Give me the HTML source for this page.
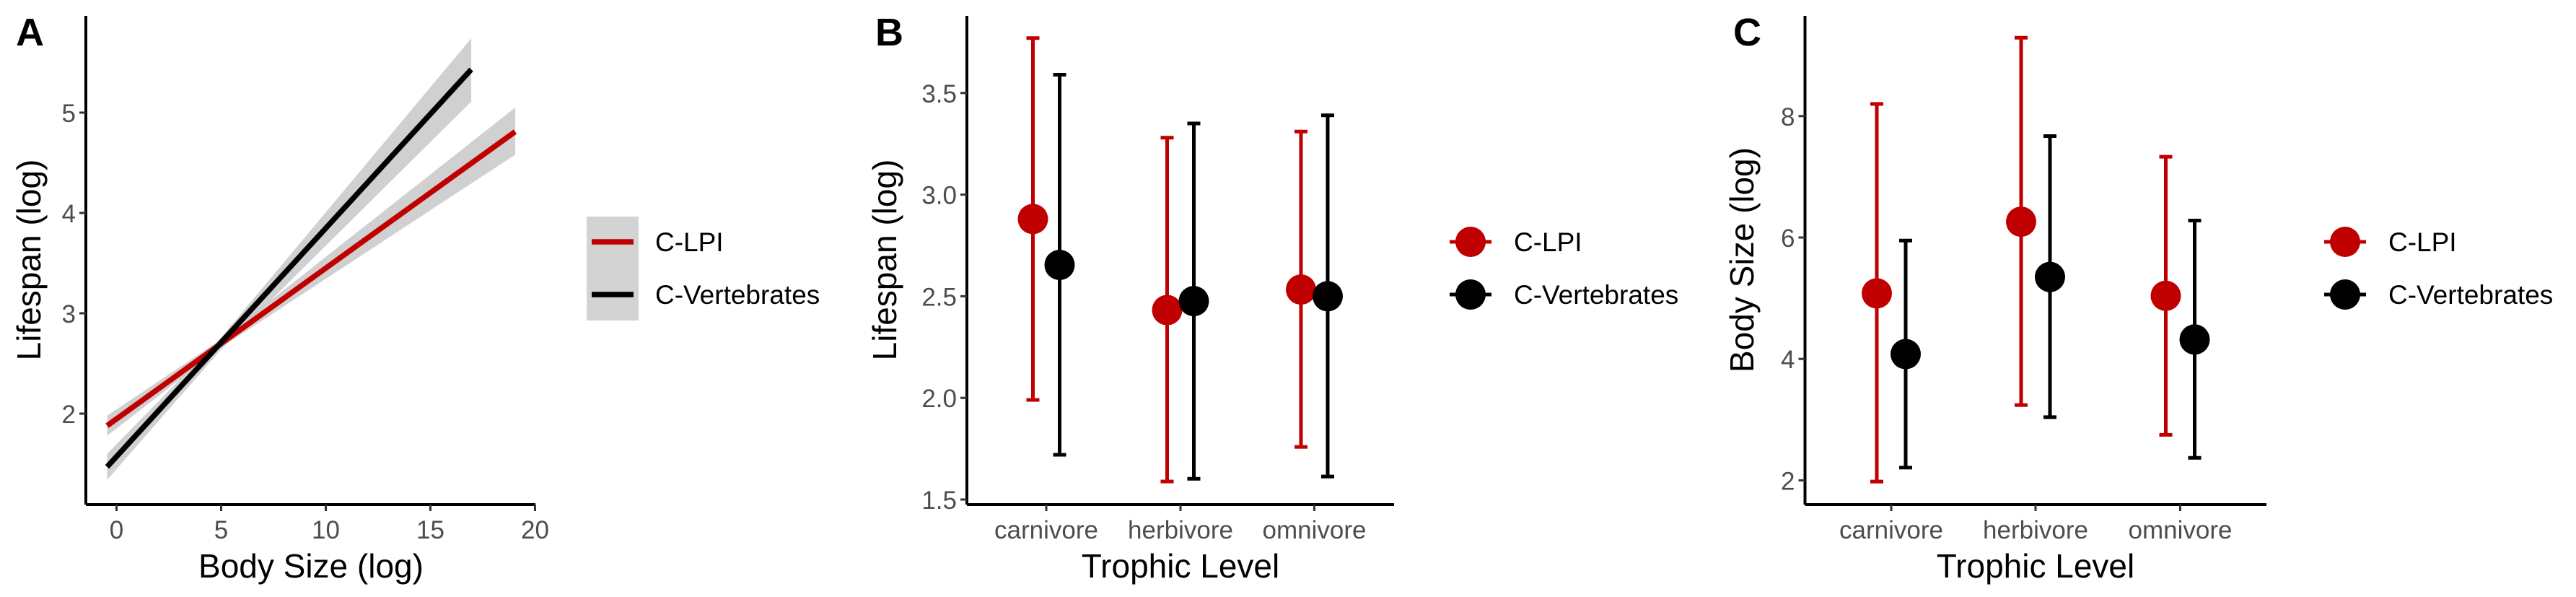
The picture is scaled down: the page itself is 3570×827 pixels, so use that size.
<!DOCTYPE html>
<html><head><meta charset="utf-8"><style>
html,body{margin:0;padding:0;background:#fff}
svg{display:block;font-family:"Liberation Sans",sans-serif}
</style></head><body>
<svg id="fig" width="3570" height="827" viewBox="0 0 3570 827" xmlns="http://www.w3.org/2000/svg"></svg>
<script>
// Panel A data
const aSeries = ["C-LPI","C-Vertebrates"];
const aX0 = [-0.45, -0.45];
const aY0 = [1.88, 1.47];
const aX1 = [19.05, 16.95];
const aY1 = [4.81, 5.43];
const bandRedX = [-0.45, 5, 19.05];
const bandRedLo = [1.78, 2.66, 4.58];
const bandRedHi = [1.98, 2.74, 5.05];
const bandBlkX = [-0.45, 5, 16.95];
const bandBlkLo = [1.34, 2.64, 5.11];
const bandBlkHi = [1.60, 2.76, 5.74];
const aXTicks = [0,5,10,15,20];
const aYTicks = [2,3,4,5];
// Panel B data
const categories = ["carnivore","herbivore","omnivore"];
const bRedMean = [2.88, 2.432, 2.533];
const bRedLo = [1.99, 1.589, 1.759];
const bRedHi = [3.77, 3.28, 3.31];
const bBlkMean = [2.654, 2.476, 2.50];
const bBlkLo = [1.72, 1.602, 1.613];
const bBlkHi = [3.59, 3.35, 3.39];
const bYTicks = ["1.5","2.0","2.5","3.0","3.5"];
// Panel C data
const cRedMean = [5.08, 6.26, 5.04];
const cRedLo = [1.98, 3.24, 2.75];
const cRedHi = [8.2, 9.29, 7.33];
const cBlkMean = [4.08, 5.35, 4.32];
const cBlkLo = [2.21, 3.04, 2.37];
const cBlkHi = [5.95, 7.67, 6.28];
const cYTicks = [2,4,6,8];

const NS="http://www.w3.org/2000/svg";
const svg=document.getElementById('fig');
const RED="#c00000", BLK="#000000", TXT="#4d4d4d";
function mk(tag,attrs,parent){const e=document.createElementNS(NS,tag);for(const k in attrs)e.setAttribute(k,attrs[k]);(parent||svg).appendChild(e);return e;}
function txt(s,attrs,parent){const e=mk('text',attrs,parent);e.textContent=s;return e;}

function axes(g,x0,x1,y0,y1){
  const a=mk('line',{x1:x0,y1:y1,x2:x0,y2:y0,stroke:'#000','stroke-width':4},g);
  
  const b=mk('line',{x1:x0,y1:y1,x2:x1,y2:y1,stroke:'#000','stroke-width':4},g);
  
}
function yTick(g,x0,y,label){
  const t=mk('line',{x1:x0-9,y1:y,x2:x0,y2:y,stroke:'#333','stroke-width':3},g);
  
  const l=txt(label,{x:x0-14,y:y+13,'font-size':35,fill:TXT,'text-anchor':'end'},g);
  
}
function xTick(g,x,y1,label){
  const t=mk('line',{x1:x,y1:y1,x2:x,y2:y1+9,stroke:'#333','stroke-width':3},g);
  
  const l=txt(label,{x:x,y:y1+47,'font-size':35,fill:TXT,'text-anchor':'middle'},g);
  
}
function titles(g,letter,lx,xt,xtx,yt,ytx){
  const p=txt(letter,{x:lx,y:63,'font-size':54,'font-weight':'bold',fill:'#000'},g);
  
  const a=txt(xt,{x:xtx,y:800,'font-size':46,fill:'#000','text-anchor':'middle'},g);
  
  const b=txt(yt,{x:0,y:0,'font-size':46,fill:'#000','text-anchor':'middle',transform:`translate(${ytx},360) rotate(-90)`},g);
  
}

// ---- Panel A ----
(function(){
  const g=mk('g',{});
  const X=v=>161.5+v*29.0, Y=v=>573-(v-2)*139;
  function band(xs,lo,hi,name){
    let pts=xs.map((x,i)=>X(x)+','+Y(hi[i]));
    pts=pts.concat(xs.map((x,i)=>X(x)+','+Y(lo[i])).reverse());
    const p=mk('polygon',{points:pts.join(' '),fill:'#c8c8c8','fill-opacity':0.85},g);
    
  }
  band(bandRedX,bandRedLo,bandRedHi,'ci-band-clpi');
  band(bandBlkX,bandBlkLo,bandBlkHi,'ci-band-vertebrates');
  const cols=[RED,BLK];
  aSeries.forEach((s,i)=>{
    const l=mk('line',{x1:X(aX0[i]),y1:Y(aY0[i]),x2:X(aX1[i]),y2:Y(aY1[i]),stroke:cols[i],'stroke-width':7.5},g);
    
  });
  axes(g,119,742,22,699);
  aYTicks.forEach(v=>yTick(g,119,Y(v),String(v)));
  aXTicks.forEach(v=>xTick(g,X(v),699,String(v)));
  titles(g,'A',22,'Body Size (log)',431,'Lifespan (log)',56);
  const lg=mk('g',{},g);
  const bg=mk('rect',{x:813,y:300,width:72,height:144,fill:'#d3d3d3'},lg);
  
  aSeries.forEach((s,i)=>{
    const y=335+i*73;
    const l=mk('line',{x1:820,y1:y,x2:878,y2:y,stroke:cols[i],'stroke-width':7.5},lg);
    
    const t=txt(s,{x:908,y:y+13,'font-size':37,fill:'#000'},lg);
    
  });
})();

function dotPanel(name,letter,lx,ax0,ax1,catX,dodge,Y,yTicks,redM,redL,redH,blkM,blkL,blkH,yTitle,ytx,legX){
  const g=mk('g',{});
  axes(g,ax0,ax1,22,699);
  yTicks.forEach(v=>yTick(g,ax0,Y(parseFloat(v)),String(v)));
  categories.forEach((c,i)=>xTick(g,catX[i],699,c));
  const sets=[[RED,redM,redL,redH,-dodge,'clpi'],[BLK,blkM,blkL,blkH,dodge,'vertebrates']];
  categories.forEach((c,i)=>{
    sets.forEach(([col,m,lo,hi,dx,nm])=>{
      const x=catX[i]+dx;
      const eb=mk('g',{},g);
      mk('line',{x1:x,y1:Y(lo[i]),x2:x,y2:Y(hi[i]),stroke:col,'stroke-width':5},eb);
      mk('line',{x1:x-9,y1:Y(lo[i]),x2:x+9,y2:Y(lo[i]),stroke:col,'stroke-width':5},eb);
      mk('line',{x1:x-9,y1:Y(hi[i]),x2:x+9,y2:Y(hi[i]),stroke:col,'stroke-width':5},eb);
      const p=mk('circle',{cx:x,cy:Y(m[i]),r:21,fill:col},g);
      
    });
  });
  titles(g,letter,lx,'Trophic Level',catX[1],yTitle,ytx);
  const lg=mk('g',{},g);
  [[RED,'C-LPI'],[BLK,'C-Vertebrates']].forEach(([col,s],i)=>{
    const y=335+i*73;
    const k=mk('g',{},lg);
    mk('line',{x1:legX-29,y1:y,x2:legX+29,y2:y,stroke:col,'stroke-width':5},k);
    mk('circle',{cx:legX,cy:y,r:21,fill:col},k);
    const t=txt(s,{x:legX+60,y:y+13,'font-size':37,fill:'#000'},lg);
    
  });
}
dotPanel('panel-b','B',1213,1340,1932,[1450,1636,1821.5],18.5,v=>692-(v-1.5)*281.6,bYTicks,
  bRedMean,bRedLo,bRedHi,bBlkMean,bBlkLo,bBlkHi,'Lifespan (log)',1242,2038);
dotPanel('panel-c','C',2402,2501.5,3141,[2621,2821,3021.5],20,v=>665.4-(v-2)*84.1,cYTicks.map(String),
  cRedMean,cRedLo,cRedHi,cBlkMean,cBlkLo,cBlkHi,'Body Size (log)',2430,3250);
</script>
</body></html>
